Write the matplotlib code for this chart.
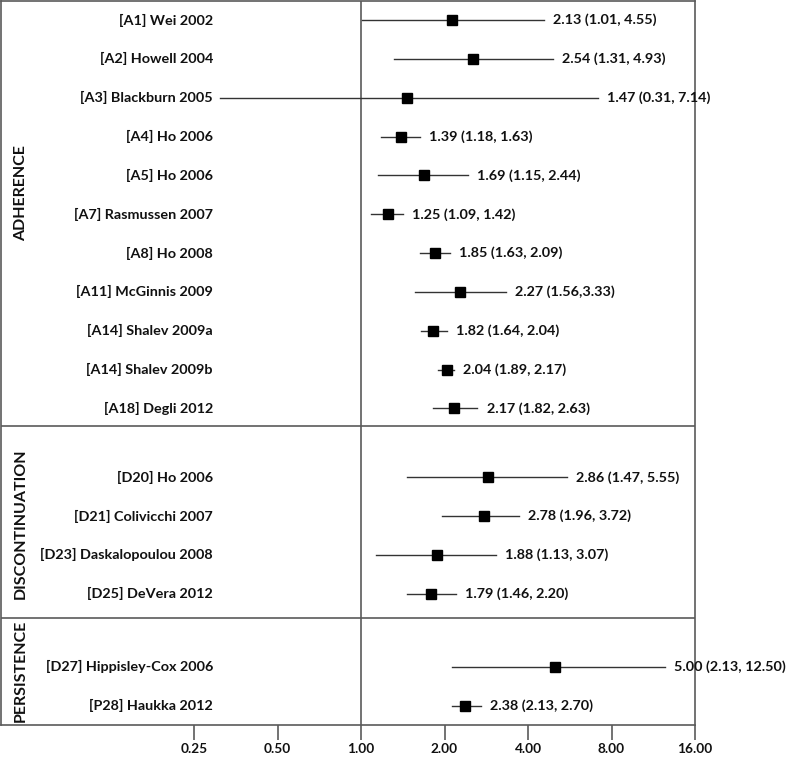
import matplotlib
matplotlib.use("Agg")
import matplotlib.pyplot as plt
import matplotlib.transforms as mtransforms
import numpy as np

# ---- data ----
groups = ["ADHERENCE", "DISCONTINUATION", "PERSISTENCE"]
study_labels = [
    "[A1] Wei 2002", "[A2] Howell 2004", "[A3] Blackburn 2005", "[A4] Ho 2006",
    "[A5] Ho 2006", "[A7] Rasmussen 2007", "[A8] Ho 2008", "[A11] McGinnis 2009",
    "[A14] Shalev 2009a", "[A14] Shalev 2009b", "[A18] Degli 2012",
    "[D20] Ho 2006", "[D21] Colivicchi 2007", "[D23] Daskalopoulou 2008", "[D25] DeVera 2012",
    "[D27] Hippisley-Cox 2006", "[P28] Haukka 2012",
]
study_group = [0]*11 + [1]*4 + [2]*2
odds_ratio = [2.13, 2.54, 1.47, 1.39, 1.69, 1.25, 1.85, 2.27, 1.82, 2.04, 2.17,
              2.86, 2.78, 1.88, 1.79, 5.00, 2.38]
ci_low = [1.01, 1.31, 0.31, 1.18, 1.15, 1.09, 1.63, 1.56, 1.64, 1.89, 1.82,
          1.47, 1.96, 1.13, 1.46, 2.13, 2.13]
ci_high = [4.55, 4.93, 7.14, 1.63, 2.44, 1.42, 2.09, 3.33, 2.04, 2.17, 2.63,
           5.55, 3.72, 3.07, 2.20, 12.50, 2.70]
ci_sep = [", "]*7 + [","] + [", "]*9
xticks = [0.25, 0.5, 1, 2, 4, 8, 16]
xtick_labels = ["0.25", "0.50", "1.00", "2.00", "4.00", "8.00", "16.00"]

# ---- layout ----
W, H = 788, 761
fig = plt.figure(figsize=(W/100, H/100), dpi=100)
ax = fig.add_axes([1/W, 1 - 725/H, 694/W, 724/H])

plt.rcParams['font.family'] = 'Lato'
FONT = dict(family='Lato', fontweight='bold', fontsize=10.4, color='#111111')
GFONT = dict(FONT, fontsize=11.5)
TFONT = dict(FONT, fontsize=9.8)

group_offsets = [0.0, 0.77, 1.65]
ypos = np.array([i + group_offsets[g] for i, g in enumerate(study_group)])
dividers = [10.44, 15.40]
ylim_top, ylim_bot = -0.49, 18.15

line_col = '#333333'
frame_col = '#5a5a5a'

for y, o, lo, hi, lab, sep in zip(ypos, odds_ratio, ci_low, ci_high, study_labels, ci_sep):
    ax.plot([lo, hi], [y, y], color=line_col, lw=1.0, zorder=2)
    ax.plot([o], [y], marker='s', ms=7.5, color='black', zorder=3, ls='none')
    ax.annotate(f"{o:.2f} ({lo:.2f}{sep}{hi:.2f})", xy=(hi, y), xytext=(6.5, 0),
                textcoords='offset points', ha='left', va='center', **FONT)

trans = mtransforms.blended_transform_factory(ax.transAxes, ax.transData)
for y, lab in zip(ypos, study_labels):
    ax.text(212/694, y, lab, transform=trans, ha='right', va='center', **FONT)

for d in dividers:
    ax.axhline(d, color=frame_col, lw=1.2, zorder=1)
ax.axvline(1, color=frame_col, lw=1.2, zorder=1)

# group labels
grp_centers = [(192-19)/38.9, (523-19)/38.9, (671-19)/38.9]
for name, yc in zip(groups, grp_centers):
    ax.text(20/694, yc, name, transform=trans, rotation=90, ha='center', va='center', **GFONT)

ax.set_xscale('log', base=2)
ax.set_xlim(2**(-360/83.5), 16)
ax.set_ylim(ylim_bot, ylim_top)
ax.set_xticks(xticks)
ax.set_xticklabels(xtick_labels, **TFONT)
ax.minorticks_off()
ax.set_yticks([])
ax.tick_params(axis='x', direction='out', length=11, width=1.2, color=frame_col, pad=2)
for s in ax.spines.values():
    s.set_color(frame_col)
    s.set_linewidth(1.2)

fig.savefig("out.png", dpi=100)
